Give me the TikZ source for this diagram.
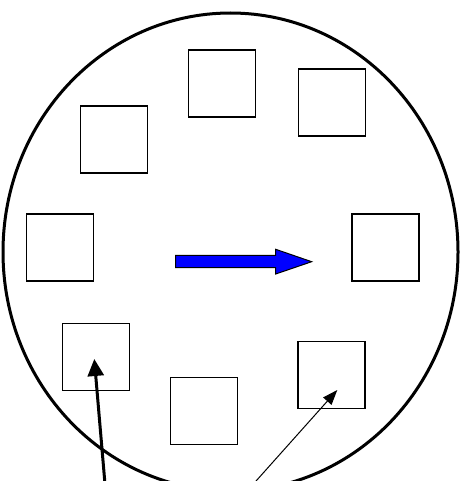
\documentclass[tikz,border=0pt]{standalone}
\usetikzlibrary{arrows.meta}
\begin{document}
\begin{tikzpicture}[x=1pt,y=-1pt,
  sq/.style={draw=black,line width=1.1pt,minimum size=67pt,inner sep=0pt,fill=none},
  rim/.style={draw=black,line width=3pt},
  bluearrow/.style={draw=black,fill=blue,line width=1pt,line join=miter},
  thickptr/.style={draw=black,line width=3pt,-{Triangle[length=17pt,width=16pt]}},
  thinptr/.style={draw=black,line width=1pt,-{Triangle[length=15pt,width=11pt]}}]
\useasboundingbox (0,0) rectangle (464,481);
\clip (0,0) rectangle (464,481);
\fill[white] (0,0) rectangle (464,481);
\draw[rim] (230.5,252) ellipse [x radius=227.5pt, y radius=239pt];
\node[sq] (s1) at (221.7,83.5) {};
\node[sq] (s2) at (331.7,102.5) {};
\node[sq] (s3) at (113.7,139.5) {};
\node[sq] (s4) at (59.8,247.5) {};
\node[sq] (s5) at (385.5,247.5) {};
\node[sq] (s6) at (95.8,357.3) {};
\node[sq] (s7) at (203.8,411.3) {};
\node[sq] (s8) at (331.5,375.3) {};
\draw[bluearrow] (175.7,255.3) -- (275.7,255.3) -- (275.7,249.3) -- (311.7,261.7)
  -- (275.7,274) -- (275.7,267.7) -- (175.7,267.7) -- cycle;
\coordinate (f1) at (105.5,490);
\coordinate (f2) at (248,490);
\coordinate (t6) at ([shift={(-1.5,1.7)}]s6.center);
\coordinate (t8) at ([shift={(5.8,14.7)}]s8.center);
\draw[thickptr] (f1) -- (t6);
\draw[thinptr] (f2) -- (t8);
\end{tikzpicture}
\end{document}
